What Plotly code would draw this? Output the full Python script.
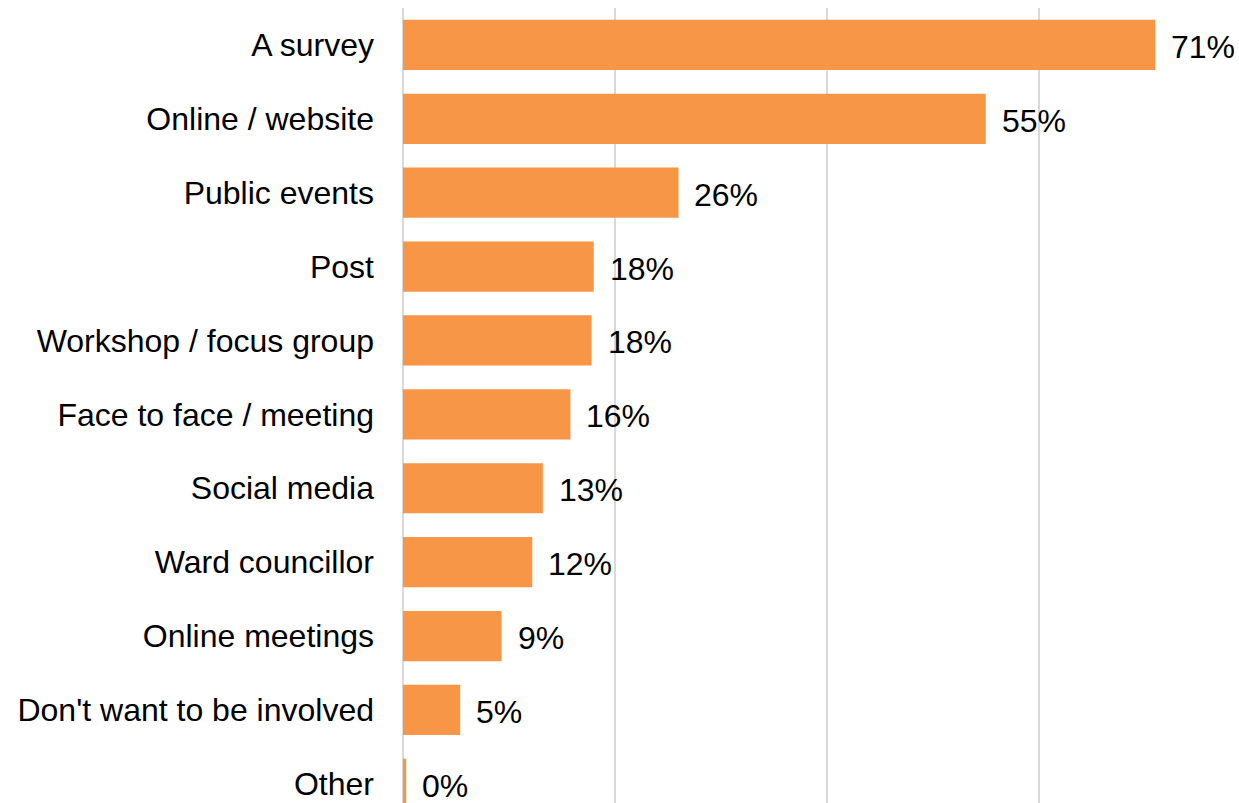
import plotly.graph_objects as go

# Share of respondents by preferred way of being involved
categories = [
    "A survey",
    "Online / website",
    "Public events",
    "Post",
    "Workshop / focus group",
    "Face to face / meeting",
    "Social media",
    "Ward councillor",
    "Online meetings",
    "Don't want to be involved",
    "Other",
]
shares = [0.71, 0.55, 0.26, 0.18, 0.178, 0.158, 0.132, 0.122, 0.093, 0.054, 0.003]

BAR_COLOR = "#F79646"
GRID_COLOR = "#D9D9D9"
FONT = "Liberation Sans, Arial, sans-serif"
FONT_SIZE = 32

fig = go.Figure(
    go.Bar(
        x=shares,
        y=categories,
        orientation="h",
        marker=dict(color=BAR_COLOR, line=dict(width=0)),
        hoverinfo="skip",
    )
)

# Value labels to the right of each bar
for cat, val in zip(categories, shares):
    fig.add_annotation(
        x=val,
        y=cat,
        text=f"{val:.0%}",
        showarrow=False,
        xanchor="left",
        yanchor="middle",
        xshift=14,
        yshift=-2,
        font=dict(family=FONT, size=FONT_SIZE, color="#000000"),
    )

fig.update_layout(
    width=1239,
    height=803,
    margin=dict(l=403, r=0, t=8, b=0),
    paper_bgcolor="white",
    plot_bgcolor="white",
    bargap=0.32,
    showlegend=False,
    font=dict(family=FONT, size=FONT_SIZE, color="#000000"),
    xaxis=dict(
        range=[0, 0.789],
        tickvals=[0, 0.2, 0.4, 0.6],
        showticklabels=False,
        showgrid=True,
        gridcolor=GRID_COLOR,
        gridwidth=1.5,
        zeroline=True,
        zerolinecolor=GRID_COLOR,
        zerolinewidth=1.5,
        showline=False,
    ),
    yaxis=dict(
        type="category",
        categoryorder="array",
        categoryarray=categories,
        range=[10.26, -0.5],
        showgrid=False,
        zeroline=False,
        showline=False,
        ticks="",
        ticklabelstandoff=28,
        tickfont=dict(family=FONT, size=FONT_SIZE, color="#000000"),
    ),
)

fig.write_html("out.html")
